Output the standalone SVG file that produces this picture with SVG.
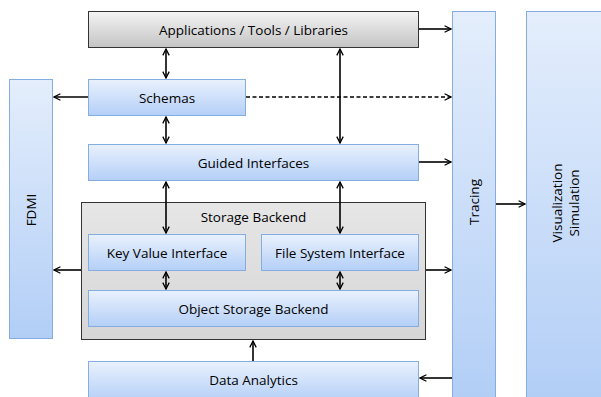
<svg xmlns="http://www.w3.org/2000/svg" width="601" height="397" viewBox="0 0 601 397">
<defs>
<linearGradient id="gBlue" x1="0" y1="0" x2="0" y2="1"><stop offset="0" stop-color="#e9f1fd"/><stop offset="1" stop-color="#b4cff7"/></linearGradient>
<linearGradient id="gTall" x1="0" y1="0" x2="0" y2="1"><stop offset="0" stop-color="#e4eefc"/><stop offset="1" stop-color="#b2cef6"/></linearGradient>
<linearGradient id="gGray" x1="0" y1="0" x2="0" y2="1"><stop offset="0" stop-color="#f4f4f4"/><stop offset="1" stop-color="#c4c4c4"/></linearGradient>
<linearGradient id="gStore" x1="0" y1="0" x2="0" y2="1"><stop offset="0" stop-color="#e6e6e6"/><stop offset="1" stop-color="#d6d6d6"/></linearGradient>
<marker id="ah" viewBox="0 0 10 10" refX="9" refY="5" markerWidth="8" markerHeight="8" markerUnits="userSpaceOnUse" orient="auto-start-reverse">
<path d="M1,1 L9,5 L1,9" fill="none" stroke="#000" stroke-width="1.6"/>
</marker>
</defs>
<style>
.blue{fill:url(#gBlue);stroke:#86ade2;stroke-width:1}
.tall{fill:url(#gTall);stroke:#86ade2;stroke-width:1}
.t{font-family:"Open Sans","Liberation Sans",Arial,sans-serif;font-size:13.5px;fill:#000;text-anchor:middle;dominant-baseline:central}
.c{stroke:#000;stroke-width:1.6;fill:none}
</style>
<rect x="0" y="0" width="601" height="397" fill="#fff"/>
<g id="fdmi"><rect class="tall" x="9.5" y="79.5" width="43" height="259"/><text class="t" transform="translate(31,210) rotate(-90)">FDMI</text></g>
<g id="tracing"><rect class="tall" x="452.5" y="11.5" width="43" height="390"/><text class="t" transform="translate(474,202) rotate(-90)">Tracing</text></g>
<g id="visualization"><rect class="tall" x="526.5" y="11.5" width="80" height="390"/><text class="t" transform="translate(557,203) rotate(-90)">Visualization</text><text class="t" transform="translate(574,203) rotate(-90)">Simulation</text></g>
<g id="apps"><rect x="88.5" y="11.5" width="330" height="36" fill="url(#gGray)" stroke="#333" stroke-width="1"/><text class="t" x="253.5" y="30">Applications / Tools / Libraries</text></g>
<g id="schemas"><rect class="blue" x="88.5" y="79.5" width="157" height="36"/><text class="t" x="167" y="98">Schemas</text></g>
<g id="guided"><rect class="blue" x="88.5" y="144.5" width="330" height="36"/><text class="t" x="253.5" y="163">Guided Interfaces</text></g>
<g id="storage"><rect x="81.5" y="202.5" width="344" height="137" fill="url(#gStore)" stroke="#333" stroke-width="1"/><text class="t" x="253.5" y="217">Storage Backend</text></g>
<g id="kv"><rect class="blue" x="88.5" y="234.5" width="157" height="36"/><text class="t" x="167" y="253">Key Value Interface</text></g>
<g id="fs"><rect class="blue" x="261.5" y="234.5" width="157" height="36"/><text class="t" x="340" y="253">File System Interface</text></g>
<g id="osb"><rect class="blue" x="88.5" y="290.5" width="330" height="36"/><text class="t" x="253.5" y="309">Object Storage Backend</text></g>
<g id="analytics"><rect class="blue" x="88.5" y="361.5" width="330" height="40"/><text class="t" x="253.5" y="380">Data Analytics</text></g>
<g id="connectors">
<line class="c" x1="419" y1="29" x2="451" y2="29" marker-end="url(#ah)"/>
<line class="c" x1="166" y1="49" x2="166" y2="78" marker-start="url(#ah)" marker-end="url(#ah)"/>
<line class="c" x1="340" y1="49" x2="340" y2="143" marker-start="url(#ah)" marker-end="url(#ah)"/>
<line class="c" x1="88" y1="97" x2="54" y2="97" marker-end="url(#ah)"/>
<line class="c" x1="246" y1="97" x2="451" y2="97" stroke-dasharray="4,2.5" marker-end="url(#ah)"/>
<line class="c" x1="166" y1="117" x2="166" y2="143" marker-start="url(#ah)" marker-end="url(#ah)"/>
<line class="c" x1="419" y1="162" x2="451" y2="162" marker-end="url(#ah)"/>
<line class="c" x1="166" y1="182" x2="166" y2="233" marker-start="url(#ah)" marker-end="url(#ah)"/>
<line class="c" x1="340" y1="182" x2="340" y2="233" marker-start="url(#ah)" marker-end="url(#ah)"/>
<line class="c" x1="166" y1="272" x2="166" y2="289" marker-start="url(#ah)" marker-end="url(#ah)"/>
<line class="c" x1="340" y1="272" x2="340" y2="289" marker-start="url(#ah)" marker-end="url(#ah)"/>
<line class="c" x1="81" y1="270" x2="54" y2="270" marker-end="url(#ah)"/>
<line class="c" x1="426" y1="270" x2="451" y2="270" marker-end="url(#ah)"/>
<line class="c" x1="253" y1="361" x2="253" y2="341" marker-end="url(#ah)"/>
<line class="c" x1="452" y1="378" x2="420" y2="378" marker-end="url(#ah)"/>
<line class="c" x1="496" y1="204" x2="525" y2="204" marker-end="url(#ah)"/>
</g>
</svg>
